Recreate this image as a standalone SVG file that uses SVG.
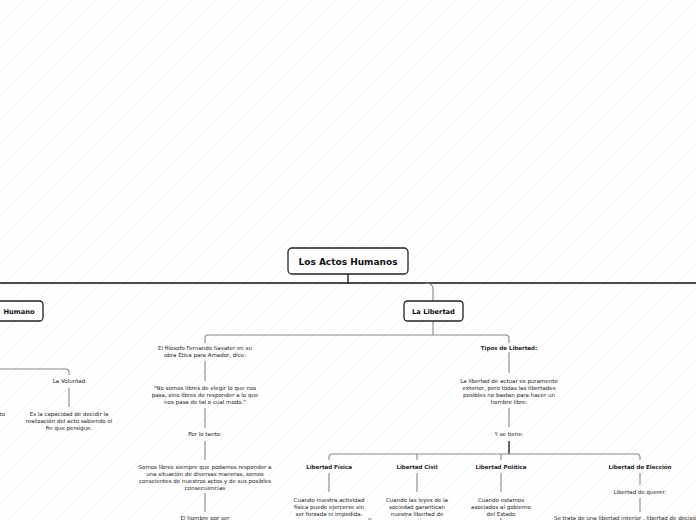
<svg xmlns="http://www.w3.org/2000/svg" width="696" height="520" viewBox="0 0 696 520">
<defs>
<pattern id="hatch" patternUnits="userSpaceOnUse" width="12" height="12">
<path d="M-3,3 L3,-3 M0,12 L12,0 M9,15 L15,9" stroke="#efefef" stroke-width="0.8"/>
</pattern>
</defs>
<style>
.box{fill:#fff;stroke:#222;stroke-width:1.3}
.t{font-family:"DejaVu Sans",Verdana,sans-serif;font-size:5.5px;fill:#222;text-anchor:middle}
.b{font-weight:bold}
.main{font-family:"DejaVu Sans",Verdana,sans-serif;font-weight:bold;fill:#111;text-anchor:middle}
.c{fill:none;stroke:#888;stroke-width:1.1}
.k{fill:none;stroke:#111;stroke-width:1.3}
</style>
<rect width="696" height="520" fill="#fff"/>
<rect width="696" height="520" fill="url(#hatch)"/>
<g id="connectors">
<path class="k" d="M348 274 V283 M0 283 H696"/>
<path class="c" d="M425 283 Q433 283 433 289 V301" stroke="#666"/>
<path class="c" d="M433 321 V335 M208 335 H506 M205 338 Q205 335 208 335 M506 335 Q509 335 509 338 M205 338 V343 M509 338 V343"/>
<path class="c" d="M0 369 H66 Q69 369 69 372 V375"/>
<path class="c" d="M69 388 V407"/>
<path class="c" d="M205 361 V381 M205 408 V428 M205 441 V460 M205 493 V512"/>
<path class="c" d="M509 352 V373 M509 408 V427"/>
<path class="k" d="M509 441 V454"/>
<path class="c" d="M332 454 H637 M329 457 Q329 454 332 454 M637 454 Q640 454 640 457 M329 457 V460 M417 454 V460 M501 454 V460 M640 457 V460"/>
<path class="c" d="M329 473 V492 M417 473 V492 M501 473 V492 M640 473 V485 M640 498 V512"/>
<path class="c" d="M501 518 V520 M368 519 H372"/>
</g>
<g id="root">
<rect class="box" x="288" y="248" width="120" height="26" rx="4"/>
<text class="main" x="348" y="265" font-size="9">Los Actos Humanos</text>
</g>
<g id="humano">
<rect class="box" x="-40" y="301" width="83" height="20" rx="3.5"/>
<text class="main" x="19" y="313.5" font-size="6.7">Humano</text>
</g>
<g id="libertad">
<rect class="box" x="404" y="301" width="59" height="20" rx="3.5"/>
<text class="main" x="433.5" y="313.5" font-size="6.7">La Libertad</text>
</g>
<g id="left-frag">
<text class="t" x="5" y="416" text-anchor="end" style="text-anchor:end">to</text>
</g>
<g id="voluntad">
<text class="t" x="69" y="383">La Voluntad</text>
<text class="t" x="69" y="415.5">Es la capacidad de decidir la</text>
<text class="t" x="69" y="422.5">realización del acto sabiendo el</text>
<text class="t" x="69" y="429.5">fin que persigue.</text>
</g>
<g id="savater">
<text class="t" x="205" y="350">El filósofo Fernando Savater en su</text>
<text class="t" x="205" y="357">obra Ética para Amador, dice:</text>
</g>
<g id="cita">
<text class="t" x="205" y="389.5">"No somos libres de elegir lo que nos</text>
<text class="t" x="205" y="396.5">pasa, sino libres de responder a lo que</text>
<text class="t" x="205" y="403.5">nos pasa de tal o cual modo."</text>
</g>
<g id="portanto">
<text class="t" x="205" y="436">Por lo tanto:</text>
</g>
<g id="somos">
<text class="t" x="205" y="469">Somos libres siempre que podamos responder a</text>
<text class="t" x="205" y="476">una situación de diversas maneras, somos</text>
<text class="t" x="205" y="483">conscientes de nuestros actos y de sus posibles</text>
<text class="t" x="205" y="490">consecuencias</text>
</g>
<g id="hombre">
<text class="t" x="205" y="520">El hombre por ser</text>
</g>
<g id="tipos">
<text class="t b" x="509" y="350">Tipos de Libertad:</text>
</g>
<g id="actuar">
<text class="t" x="509" y="383">La libertad de actuar es puramente</text>
<text class="t" x="509" y="390">exterior, pero todas las libertades</text>
<text class="t" x="509" y="397">posibles no bastan para hacer un</text>
<text class="t" x="509" y="404">hombre libre:</text>
</g>
<g id="setiene">
<text class="t" x="509" y="436">Y se tiene:</text>
</g>
<g id="fisica">
<text class="t b" x="329" y="469">Libertad Física</text>
<text class="t" x="329" y="502">Cuando nuestra actividad</text>
<text class="t" x="329" y="509">física puede ejercerse sin</text>
<text class="t" x="329" y="516">ser forzada ni impedida.</text>
</g>
<g id="civil">
<text class="t b" x="417" y="469">Libertad Civil</text>
<text class="t" x="417" y="502">Cuando las leyes de la</text>
<text class="t" x="417" y="509">sociedad garantican</text>
<text class="t" x="417" y="516">nuestra libertad de</text>
<text class="t" x="417" y="522.5">acción</text>
</g>
<g id="politica">
<text class="t b" x="501" y="469">Libertad Política</text>
<text class="t" x="501" y="501.5">Cuando estamos</text>
<text class="t" x="501" y="508.5">asociados al gobierno</text>
<text class="t" x="501" y="515.5">del Estado</text>
</g>
<g id="eleccion">
<text class="t b" x="640" y="469">Libertad de Elección</text>
<text class="t" x="640" y="494">Libertad de querer:</text>
<text class="t" x="554" y="520" style="text-anchor:start">Se trata de una libertad interior , libertad de decisión</text>
</g>
</svg>
